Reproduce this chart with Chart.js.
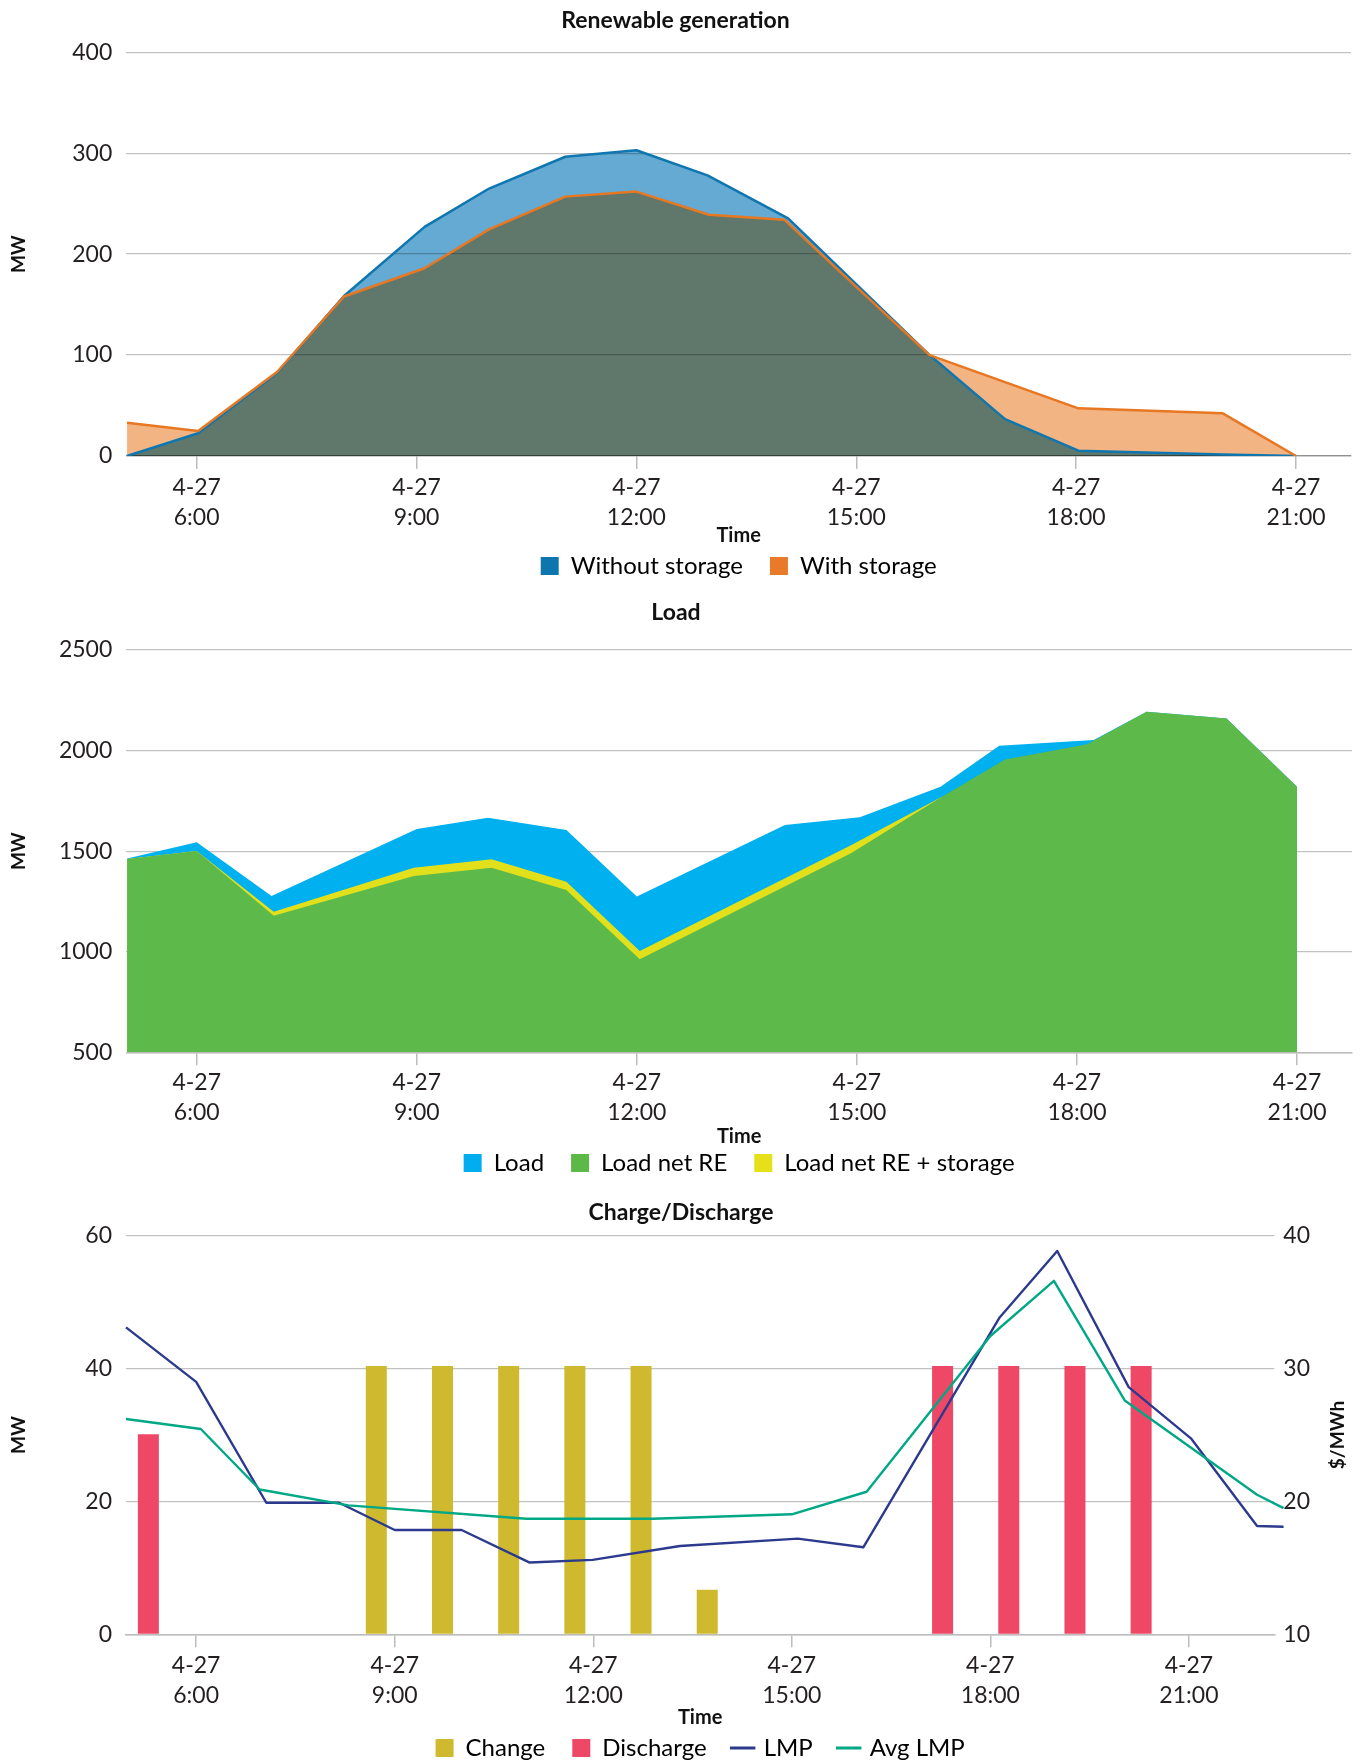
<!DOCTYPE html>
<html>
<head>
<meta charset="utf-8">
<script src="https://cdn.jsdelivr.net/npm/chart.js@4/dist/chart.umd.min.js"></script>
<style>
  html, body { margin: 0; padding: 0; background: #fff; overflow: hidden; }
  body { width: 1362px; height: 1760px; position: relative; }
  .panel { position: absolute; left: 0; width: 1362px; }
  canvas { display: block; }
</style>
</head>
<body>
<div class="panel" style="top:0;height:600px"><canvas id="gen" width="1362" height="600"></canvas></div>
<div class="panel" style="top:590px;height:600px"><canvas id="load" width="1362" height="600"></canvas></div>
<div class="panel" style="top:1180px;height:580px"><canvas id="storage" width="1362" height="580"></canvas></div>
<script>
// ---- shared axis labels ----
const tickHours = [6, 9, 12, 15, 18, 21];
const dateLabel = '4-27';

// ---- Renewable generation (MW), time in hours of 4-27 ----
const genHoursNoStorage = [5.05, 6.02, 7.10, 8.01, 9.11, 9.99, 11.03, 12.0, 12.97, 14.07, 16.0, 17.03, 18.03, 20.0, 21.0];
const genNoStorage      = [0, 22.5, 82.5, 158.5, 227, 265, 296.5, 303, 278, 235.5, 100, 36.5, 5.3, 1.5, 0];
const genHoursStorage   = [5.05, 6.02, 7.10, 8.01, 9.11, 9.99, 11.03, 12.0, 12.99, 14.02, 16.0, 18.03, 20.0, 21.0];
const genStorage        = [33, 24.8, 83.5, 158, 186, 224.5, 257, 262, 239, 234, 100, 47.2, 42.3, 0];

// ---- Load (MW) ----
const loadHours = [5.05, 6.0, 7.02, 9.0, 9.97, 11.04, 12.0, 14.02, 15.04, 16.14, 16.94, 18.23, 18.95, 20.04, 21.0];
const load      = [1464, 1544, 1277, 1610, 1666, 1605, 1274, 1630, 1668, 1820, 2024, 2052, 2193, 2160, 1820];
const netREHours = [5.05, 6.0, 7.05, 8.96, 10.02, 11.04, 12.04, 14.92, 16.16, 17.02, 18.14, 18.95, 20.04, 21.0];
const netRE      = [1461, 1501, 1179, 1376, 1418, 1307, 962, 1489, 1770, 1956, 2032, 2193, 2160, 1820];
const netStorageHours = [5.05, 6.0, 7.05, 8.96, 10.02, 11.04, 12.04, 14.92, 16.16];
const netStorage      = [1461, 1501, 1199, 1418, 1460, 1348, 1004, 1529, 1770];

// ---- Charge / discharge (MW) and prices ($/MWh) ----
const changeHours = [9, 10, 11, 12, 13, 14];
const change      = [40.4, 40.4, 40.4, 40.4, 40.4, 6.7];
const dischargeHours = [5, 17, 18, 19, 20];
const discharge      = [30.1, 40.4, 40.4, 40.4, 40.4];
const lmpHours = [4.94, 6.0, 7.06, 8.16, 9.0, 10.01, 11.04, 11.99, 13.31, 15.09, 16.08, 18.14, 19.01, 20.09, 21.03, 22.03, 22.43];
const lmp      = [33.1, 29.0, 19.9, 19.9, 17.85, 17.85, 15.4, 15.6, 16.65, 17.2, 16.55, 33.85, 38.85, 28.6, 24.75, 18.15, 18.1];
const avgLmpHours = [4.94, 6.07, 6.96, 8.3, 10.99, 12.9, 15.0, 16.13, 18.0, 18.96, 20.03, 22.03, 22.43];
const avgLmp      = [26.2, 25.45, 20.9, 19.7, 18.7, 18.7, 19.03, 20.73, 32.45, 36.6, 27.6, 20.5, 19.5];

// ---- styling ----
const FONT = "Lato, 'Open Sans', sans-serif";
const TEXT = '#231f20';
const TITLE = '#111111';
const GRID = '#c2c2c2';
const AXIS = '#bcbcbc';

const pairs = (xs, ys) => xs.map((x, i) => ({ x, y: ys[i] }));

function xAxis(min, max, tickPad, height, titlePadBottom) {
  return {
    type: 'linear', position: 'bottom', min, max, offset: false,
    afterBuildTicks: (axis) => { axis.ticks = tickHours.map(v => ({ value: v })); },
    afterFit: (axis) => { axis.height = height; },
    ticks: {
      callback: (v) => [dateLabel, v + ':00'],
      font: { family: FONT, size: 23, lineHeight: '30px' },
      color: TEXT, padding: tickPad, maxRotation: 0, autoSkip: false
    },
    grid: { offset: false, drawOnChartArea: false, drawTicks: true, tickLength: 13, color: AXIS, lineWidth: 1.5 },
    border: { display: true, color: AXIS, width: 1.5 },
    title: {
      display: true, text: 'Time', color: TITLE,
      font: { family: FONT, size: 20, weight: 'bold' },
      padding: { top: 0, bottom: titlePadBottom }
    }
  };
}

function yAxis(min, max, step, width) {
  return {
    type: 'linear', position: 'left', min, max,
    afterFit: (axis) => { axis.width = width; },
    ticks: { stepSize: step, callback: (v) => String(v), font: { family: FONT, size: 23 }, color: TEXT, padding: 14 },
    grid: { color: GRID, lineWidth: 1.3, drawTicks: false },
    border: { display: false },
    title: {
      display: true, text: 'MW', color: TITLE,
      font: { family: FONT, size: 19, weight: 'bold' },
      padding: { top: 7.6, bottom: 0 }
    }
  };
}

function chartTitle(text, top, bottom) {
  return {
    display: true, text, color: TITLE,
    font: { family: FONT, size: 23, weight: 'bold' },
    padding: { top, bottom }
  };
}

function boxLegend(colors) {
  return {
    position: 'bottom', fullSize: false,
    labels: {
      font: { family: FONT, size: 24 }, color: TEXT,
      boxWidth: 18, boxHeight: 18, padding: 27,
      sort: (a, b) => a.datasetIndex - b.datasetIndex,
      generateLabels: (chart) => chart.data.datasets.map((ds, i) => ({
        text: ds.label, fillStyle: colors[i], strokeStyle: colors[i],
        lineWidth: 0, hidden: false, datasetIndex: i
      }))
    }
  };
}

// Overlapping generation areas are blended multiplicatively; lines stay normal.
const multiplyFills = {
  id: 'multiplyFills',
  beforeDraw(chart) { chart.ctx.save(); chart.ctx.globalCompositeOperation = 'multiply'; },
  beforeDatasetsDraw(chart) { chart.ctx.globalCompositeOperation = 'source-over'; },
  afterDraw(chart) { chart.ctx.restore(); }
};

// Price axis caption, read bottom-to-top like the MW caption.
const rightAxisCaption = {
  id: 'rightAxisCaption',
  afterDraw(chart) {
    const s = chart.scales.y1;
    const ctx = chart.ctx;
    ctx.save();
    ctx.font = "bold 19px " + FONT;
    ctx.fillStyle = TITLE;
    ctx.textAlign = 'center';
    ctx.textBaseline = 'middle';
    ctx.translate(s.right - 23.7, (s.top + s.bottom) / 2);
    ctx.rotate(-Math.PI / 2);
    ctx.fillText('$/MWh', 0, 0);
    ctx.restore();
  }
};

const common = {
  responsive: false, animation: false, devicePixelRatio: 1, events: [],
  elements: { point: { radius: 0 }, line: { tension: 0, borderJoinStyle: 'round' } }
};

const charts = [];

// ---- Renewable generation ----
charts.push(new Chart(document.getElementById('gen'), {
  type: 'line',
  data: {
    datasets: [
      { label: 'Without storage', data: pairs(genHoursNoStorage, genNoStorage),
        borderColor: '#0f76b0', backgroundColor: '#64aad2', fill: 'origin', borderWidth: 2.5, order: 2 },
      { label: 'With storage', data: pairs(genHoursStorage, genStorage),
        borderColor: '#e87722', backgroundColor: '#f2b482', fill: 'origin', borderWidth: 2.5, order: 1 }
    ]
  },
  options: Object.assign({}, common, {
    layout: { padding: { top: 0, right: 11, bottom: 12, left: 0 } },
    plugins: {
      filler: { drawTime: 'beforeDatasetsDraw' },
      title: chartTitle('Renewable generation', 6.4, 18.3),
      legend: boxLegend(['#0e76ae', '#e87a2a']),
      tooltip: { enabled: false }
    },
    scales: {
      x: xAxis(5.04, 21.75, 3.2, 71, -20.6),
      y: yAxis(0, 400, 100, 126.3)
    }
  }),
  plugins: [multiplyFills]
}));

// ---- Load ----
charts.push(new Chart(document.getElementById('load'), {
  type: 'line',
  data: {
    datasets: [
      { label: 'Load', data: pairs(loadHours, load),
        borderWidth: 0, backgroundColor: '#00b0ef', fill: 'start', order: 3 },
      { label: 'Load net RE', data: pairs(netREHours, netRE),
        borderWidth: 0, backgroundColor: '#5cb94a', fill: 'start', order: 1 },
      { label: 'Load net RE + storage', data: pairs(netStorageHours, netStorage),
        borderWidth: 0, backgroundColor: '#e2e01b', fill: 'start', order: 2 }
    ]
  },
  options: Object.assign({}, common, {
    layout: { padding: { top: 0, right: 10, bottom: 5, left: 0 } },
    plugins: {
      title: chartTitle('Load', 9.2, 23.2),
      legend: boxLegend(['#00aeef', '#5cb947', '#e5e01a']),
      tooltip: { enabled: false }
    },
    scales: {
      x: xAxis(5.04, 21.75, 2.2, 71.7, -24.3),
      y: yAxis(500, 2500, 500, 126.3)
    }
  })
}));

// ---- Charge / Discharge ----
const barColors = { change: '#cfb92e', discharge: '#ee4866' };
const lineColors = { lmp: '#2c3a8e', avg: '#00a886' };
charts.push(new Chart(document.getElementById('storage'), {
  type: 'line',
  data: {
    datasets: [
      { type: 'bar', label: 'Change', data: pairs(changeHours, change), yAxisID: 'y',
        backgroundColor: barColors.change, categoryPercentage: 1.112, barPercentage: 0.571, order: 3 },
      { type: 'bar', label: 'Discharge', data: pairs(dischargeHours, discharge), yAxisID: 'y',
        backgroundColor: barColors.discharge, categoryPercentage: 1.112, barPercentage: 0.571, order: 4 },
      { label: 'LMP', data: pairs(lmpHours, lmp), yAxisID: 'y1', clip: false,
        borderColor: lineColors.lmp, borderWidth: 2.4, fill: false, order: 2 },
      { label: 'Avg LMP', data: pairs(avgLmpHours, avgLmp), yAxisID: 'y1', clip: false,
        borderColor: lineColors.avg, borderWidth: 2.4, fill: false, order: 1 }
    ]
  },
  options: Object.assign({}, common, {
    layout: { padding: { top: 0, right: 0, bottom: -10, left: 0 } },
    plugins: {
      title: chartTitle('Charge/Discharge', 18.8, 9.3),
      legend: {
        position: 'bottom', fullSize: false,
        labels: {
          font: { family: FONT, size: 24 }, color: TEXT,
          boxWidth: 18, boxHeight: 18, padding: 27, usePointStyle: true,
          sort: (a, b) => a.datasetIndex - b.datasetIndex,
          generateLabels: (chart) => chart.data.datasets.map((ds, i) => {
            const isBar = ds.type === 'bar';
            const c = isBar ? ds.backgroundColor : ds.borderColor;
            return {
              text: ds.label, fillStyle: c, strokeStyle: c,
              lineWidth: isBar ? 0 : 3, pointStyle: isBar ? 'rect' : 'line',
              hidden: false, datasetIndex: i
            };
          })
        }
      },
      tooltip: { enabled: false }
    },
    scales: {
      x: xAxis(4.94, 22.29, 3.6, 74.7, -20.9),
      y: yAxis(0, 60, 20, 126),
      y1: {
        type: 'linear', position: 'right', min: 10, max: 40,
        afterFit: (axis) => { axis.width = 87.7; },
        ticks: { stepSize: 10, font: { family: FONT, size: 23 }, color: TEXT, padding: 9 },
        grid: { drawOnChartArea: false, drawTicks: false },
        border: { display: false },
        title: { display: false }
      }
    }
  }),
  plugins: [rightAxisCaption]
}));

if (document.fonts && document.fonts.ready) {
  document.fonts.ready.then(() => charts.forEach(c => c.update()));
}
</script>
</body>
</html>
